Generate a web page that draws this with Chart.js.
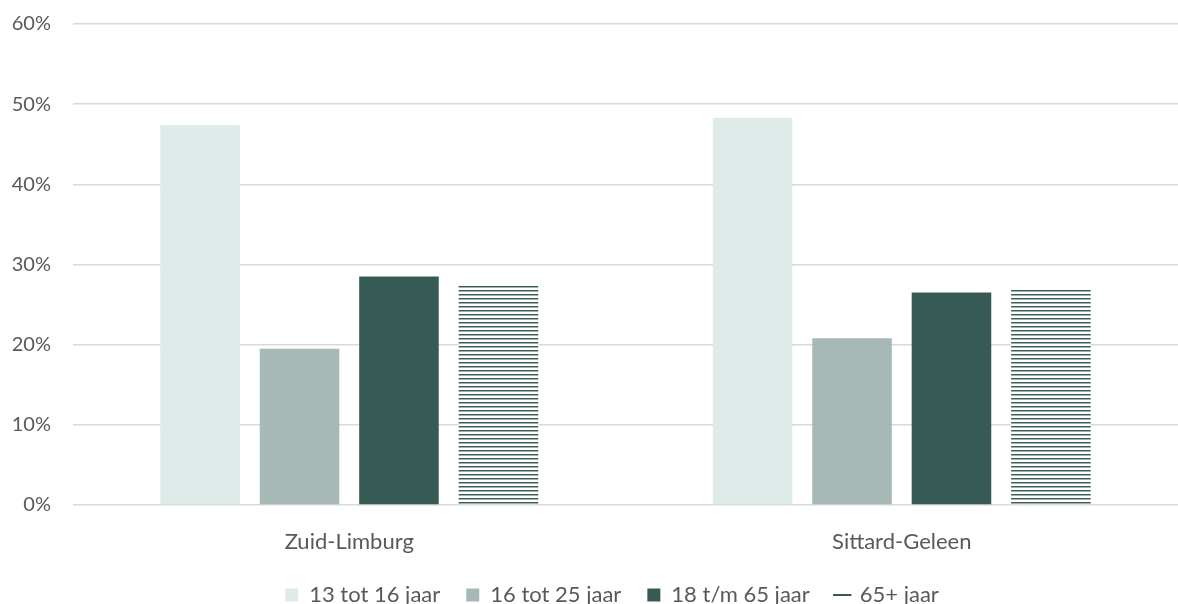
<!DOCTYPE html>
<html>
<head>
<meta charset="utf-8">
<script src="https://cdn.jsdelivr.net/npm/chart.js@4/dist/chart.umd.min.js"></script>
<style>
    html, body { margin: 0; padding: 0; background: #fff; overflow: hidden; }
    #wrap { width: 1178px; height: 614px; margin-top: -10px; position: relative; }
</style>
</head>
<body>
<div id="wrap"><canvas id="ageChart"></canvas></div>
<script>
const regions = ['Zuid-Limburg', 'Sittard-Geleen'];
const seriesNames = ['13 tot 16 jaar', '16 tot 25 jaar', '18 t/m 65 jaar', '65+ jaar'];
const age13to16 = [47.4, 48.3];
const age16to25 = [19.5, 20.8];
const age18to65 = [28.5, 26.5];
const age65plus = [27.5, 27.0];
const yTicks = [0, 10, 20, 30, 40, 50, 60];

document.addEventListener('DOMContentLoaded', function () {
    const ctx = document.getElementById('ageChart').getContext('2d');

    // horizontal stripes for the 65+ bars
    const stripe = document.createElement('canvas');
    stripe.width = 4;
    stripe.height = 4;
    const sctx = stripe.getContext('2d');
    sctx.fillStyle = '#ffffff';
    sctx.fillRect(0, 0, 4, 4);
    sctx.fillStyle = '#375a54';
    sctx.fillRect(0, 0, 4, 1);
    sctx.fillStyle = '#9fb2ae';
    sctx.fillRect(0, 1, 4, 1);
    const stripes = ctx.createPattern(stripe, 'repeat');

    const colors = ['#dfebe8', '#a6b9b6', '#385a55', stripes];
    const legendColors = ['#dfebe8', '#a6b9b6', '#385a55', '#385a55'];
    const values = [age13to16, age16to25, age18to65, age65plus];

    const datasets = seriesNames.map((name, i) => ({
        label: name,
        data: values[i],
        backgroundColor: colors[i],
        borderWidth: 0,
        barPercentage: 0.8,
        categoryPercentage: 0.72
    }));

    // legend keeps its wide item spacing but not the tall box,
    // and sits a bit right of centre like the original
    const legendTweak = {
        id: 'legendTweak',
        beforeInit(chart) {
            const legend = chart.legend;
            const fit = legend.fit;
            const draw = legend.draw;
            legend.fit = function () {
                fit.call(this);
                this.height = 46;
            };
            legend.draw = function () {
                const c = this.ctx;
                c.save();
                c.translate(23, 0);
                draw.apply(this, arguments);
                c.restore();
            };
        }
    };

    new Chart(ctx, {
        type: 'bar',
        data: { labels: regions, datasets: datasets },
        plugins: [legendTweak],
        options: {
            responsive: true,
            maintainAspectRatio: false,
            animation: false,
            layout: { padding: 0 },
            plugins: {
                tooltip: { enabled: false },
                legend: {
                    position: 'bottom',
                    labels: {
                        usePointStyle: true,
                        boxWidth: 13,
                        boxHeight: 13,
                        padding: 26,
                        color: '#595959',
                        font: { family: 'Lato', size: 22 },
                        generateLabels: function (chart) {
                            return chart.data.datasets.map((ds, i) => ({
                                text: ds.label,
                                fillStyle: legendColors[i],
                                strokeStyle: legendColors[i],
                                lineWidth: i === 3 ? 2 : 0,
                                pointStyle: i === 3 ? 'line' : 'rect',
                                hidden: false,
                                datasetIndex: i,
                                fontColor: '#595959'
                            }));
                        }
                    }
                }
            },
            scales: {
                x: {
                    grid: { display: false, drawTicks: false },
                    border: { display: false },
                    ticks: {
                        color: '#595959',
                        padding: 24,
                        font: { family: 'Lato', size: 22 }
                    },
                    afterFit: function (scale) {
                        scale.height = 53;
                    }
                },
                y: {
                    min: 0,
                    max: 60,
                    afterBuildTicks: function (axis) {
                        axis.ticks = yTicks.map(v => ({ value: v }));
                    },
                    grid: { color: '#d9d9d9', lineWidth: 1.5, drawTicks: false },
                    border: { display: false },
                    ticks: {
                        color: '#595959',
                        padding: 22,
                        font: { family: 'Lato', size: 20 },
                        callback: v => v + '%'
                    },
                    afterFit: function (scale) {
                        scale.width = 73;
                    }
                }
            }
        }
    });
});
</script>
</body>
</html>
